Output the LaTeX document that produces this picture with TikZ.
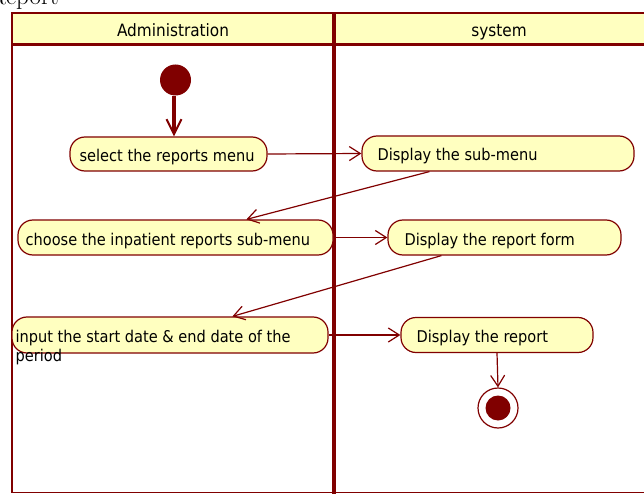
\documentclass[tikz,border=0pt]{standalone}
\usepackage{fontspec}
\setsansfont{DejaVu Sans}[FakeStretch=0.9]
\usetikzlibrary{arrows.meta,calc}
\definecolor{umlred}{HTML}{800000}
\definecolor{umlfill}{HTML}{FFFFC0}

\begin{document}
\begin{tikzpicture}[x=1pt,y=-1pt,
  action/.style={draw=umlred, fill=umlfill, line width=1.2pt,
    rounded corners=15pt, inner sep=0pt},
  acttext/.style={font=\sffamily\fontsize{16.2}{19}\selectfont,
    inner sep=0pt, anchor=base west, align=left, text=black},
  lanehead/.style={font=\sffamily\fontsize{17}{20}\selectfont,
    inner sep=0pt, anchor=base, text=black},
  flow/.style={draw=umlred, line width=1.2pt,
    -{Straight Barb[length=11pt,width=14pt]}}
]
\useasboundingbox (0,0) rectangle (644,494);
\clip (0,0) rectangle (644,494);

% page heading, cut by the top edge
\node[font=\fontsize{25}{25}\selectfont, inner sep=0pt, anchor=base east]
  (title) at (59,4.5) {Report};

% swimlane frame
\fill[umlfill] (12,13) rectangle (662,44.5);
\draw[umlred, line width=2.5pt] (12,492.5) -- (12,13) -- (662,13);
\draw[umlred, line width=3pt] (12,44.5) -- (662,44.5);
\draw[umlred, line width=1.6pt] (12,492.5) -- (662,492.5);
\draw[umlred, line width=4.6pt] (334,13) -- (334,494);

\node[lanehead] (hAdmin) at (173,37) {Administration};
\node[lanehead] (hSys) at (499,37) {system};

% actions
\node[action, minimum width=197pt, minimum height=34pt] (sel) at (168.5,154) {};
\node[action, minimum width=272pt, minimum height=35pt] (sub) at (498,153.5) {};
\node[action, minimum width=315pt, minimum height=35pt] (cho) at (175.5,237.5) {};
\node[action, minimum width=233pt, minimum height=35pt] (form) at (504.5,237.5) {};
\node[action, minimum width=316pt, minimum height=36pt] (inp) at (170,335) {};
\node[action, minimum width=192pt, minimum height=35pt] (rep) at (497,335) {};

\node[acttext] (tSel) at ($(sel.west)+(10,7.5)$) {select the reports menu};
\node[acttext] (tSub) at ($(sub.west)+(16,7.5)$) {Display the sub-menu};
\node[acttext] (tCho) at ($(cho.west)+(8,7.5)$) {choose the inpatient reports sub-menu};
\node[acttext] (tForm) at ($(form.west)+(17,7.5)$) {Display the report form};
% two lines: the base anchor sits on the last line, so it is placed one line lower
\node[acttext] (tInp) at ($(inp.west)+(4,26.5)$) {input the start date \& end date of the\\period};
\node[acttext] (tRep) at ($(rep.west)+(16,7.5)$) {Display the report};

% start and end
\node[circle, fill=umlred, minimum size=31pt, inner sep=0pt] (init) at (175.5,80) {};
\node[circle, draw=umlred, fill=white, line width=1.2pt, minimum size=40pt,
  inner sep=0pt] (fin) at (498,408) {};
\node[circle, fill=umlred, minimum size=25pt, inner sep=0pt] (finDot) at (fin.center) {};

% control flow
\draw[umlred, line width=4pt,
  -{Straight Barb[length=15pt,width=15pt,line width=2pt]}]
  ([xshift=-1.5pt]init.south) -- ([xshift=-1.5pt]init.south |- sel.north);
\draw[flow] (sel.east) -- (sub.west);
\draw[flow] ([xshift=68pt]sub.south west) -- ([xshift=229pt]cho.north west);
\draw[flow] (cho.east) -- (form.west);
\draw[flow] ([xshift=54pt]form.south west) -- ([xshift=221pt]inp.north west);
\draw[flow] (inp.east) -- (rep.west);
\draw[flow] (rep.south) -- (fin.north);
\end{tikzpicture}
\end{document}
